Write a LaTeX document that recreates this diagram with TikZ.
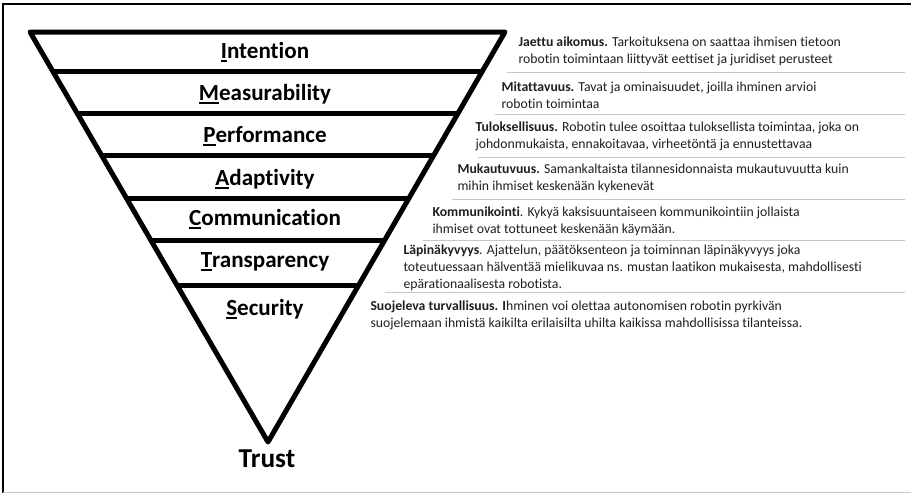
\documentclass[tikz,border=0pt]{standalone}
\usepackage{fontspec}
\setmainfont{Carlito}[Ligatures=NoCommon]

% first letter with a heavy underline
\newcommand\firstul[1]{\leavevmode\vtop{\hbox{#1}\kern1.1pt\hrule height 1.4pt}}

\tikzset{every picture/.style={line width=0.75pt}}
\tikzset{
  tri/.style={line width=3.75pt, line join=round},
  band/.style={line width=3.75pt},
  sepline/.style={draw=black!22, line width=0.75pt},
  layerlabel/.style={font=\fontsize{17.3}{20}\selectfont\bfseries, inner sep=0pt},
  desc/.style={font=\fontsize{10.3}{12.75}\selectfont, text=black!88, align=left, anchor=west, inner sep=0pt},
}

\begin{document}
\begin{tikzpicture}[x=0.75pt,y=0.75pt,yscale=-1,xscale=1]
\useasboundingbox (0,0) rectangle (911,493);

%Frame
\draw [line width=1.5pt] (3,493) -- (3,4) -- (911,4) ;
\draw [sepline] (3,492) -- (911,492) ;

%Shape: Triangle
\coordinate (tl) at (30,32);
\coordinate (tr) at (505,32);
\coordinate (apex) at (268,442);
\draw [tri] (tl) -- (tr) -- (apex) -- cycle ;

%Straight Lines
\draw [band] (52.6,71) -- (482.5,71) ;
\draw [band] (77,113) -- (458.2,113) ;
\draw [band] (101.4,155) -- (433.9,155) ;
\draw [band] (126.4,198) -- (409,198) ;
\draw [band] (150.7,240) -- (384.8,240) ;
\draw [band] (176.9,285) -- (358.7,285) ;

%Separators
\draw [sepline] (507,72) -- (905,72) ;
\draw [sepline] (495,114) -- (905,114) ;
\draw [sepline] (478,157) -- (905,157) ;
\draw [sepline] (452,199) -- (905,199) ;
\draw [sepline] (423,240) -- (905,240) ;
\draw [sepline] (385,292) -- (905,292) ;

% Text Node
\node [layerlabel] (intention) at (265,52) {\firstul{I}ntention};
\node [layerlabel] (measurability) at (265,94) {\firstul{M}easurability};
\node [layerlabel] (performance) at (265,136) {\firstul{P}erformance};
\node [layerlabel] (adaptivity) at (265,179) {\firstul{A}daptivity};
\node [layerlabel] (communication) at (265,219) {\firstul{C}ommunication};
\node [layerlabel] (transparency) at (265,262) {\firstul{T}ransparency};
\node [layerlabel] (security) at (265,309) {\firstul{S}ecurity};
\node [font=\fontsize{20.5}{24}\selectfont\bfseries, inner sep=0pt] (trust) at (267,459) {Trust};

% Text Node
\node [desc] (jaettu) at (518,51) {\textbf{Jaettu aikomus.} Tarkoituksena on saattaa ihmisen tietoon\\robotin toimintaan liittyvät eettiset ja juridiset perusteet};
\node [desc] (mitattavuus) at (501,95) {\textbf{Mitattavuus.} Tavat ja ominaisuudet, joilla ihminen arvioi\\robotin toimintaa};
\node [desc] (tuloksellisuus) at (475,136) {\textbf{Tuloksellisuus.} Robotin tulee osoittaa tuloksellista toimintaa, joka on\\johdonmukaista, ennakoitavaa, virheetöntä ja ennustettavaa};
\node [desc] (mukautuvuus) at (457,178) {\textbf{Mukautuvuus.} Samankaltaista tilannesidonnaista mukautuvuutta kuin\\mihin ihmiset keskenään kykenevät};
\node [desc] (kommunikointi) at (432,221) {\textbf{Kommunikointi}. Kykyä kaksisuuntaiseen kommunikointiin jollaista\\ihmiset ovat tottuneet keskenään käymään.};
\node [desc] (lapinakyvyys) at (403,268) {\textbf{Läpinäkyvyys}. Ajattelun, päätöksenteon ja toiminnan läpinäkyvyys joka\\toteutuessaan hälventää mielikuvaa ns. mustan laatikon mukaisesta, mahdollisesti\\epärationaalisesta robotista.};
\node [desc] (suojeleva) at (370,315) {\textbf{Suojeleva turvallisuus. I}hminen voi olettaa autonomisen robotin pyrkivän\\suojelemaan ihmistä kaikilta erilaisilta uhilta kaikissa mahdollisissa tilanteissa.};

\end{tikzpicture}
\end{document}
